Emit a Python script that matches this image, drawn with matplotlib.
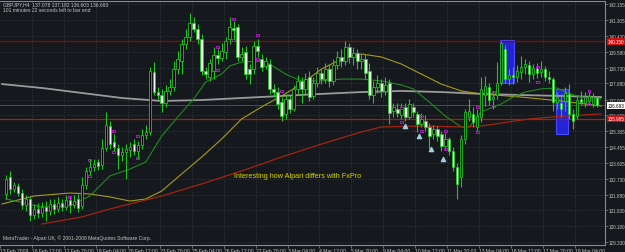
import numpy as np
import matplotlib.pyplot as plt
from matplotlib.patches import Rectangle
from matplotlib.transforms import blended_transform_factory

symbol_info = "GBPJPY,H4  137.078 137.182 136.603 136.693"
timer_info = "101 minutes 22 seconds left to bar end"
copyright_info = "MetaTrader - Alpari UK, \u00a9 2001-2008 MetaQuotes Software Corp."
note = "Interesting how Alpari differs with FxPro"

# H4 candles
opens = [131.92, 132.83, 132.19, 132.35, 131.97, 131.33, 131.65, 130.79, 131.11, 130.89,
         131.22, 131.00, 131.38, 131.11, 131.43, 131.22, 131.59, 131.33, 131.65, 131.27,
         132.40, 133.16, 133.37, 133.64, 133.48, 134.40, 135.58, 134.72, 134.40, 134.02,
         134.18, 134.29, 134.61, 134.23, 134.56, 135.10, 135.26, 138.49, 137.41, 137.25,
         136.82, 137.47, 137.68, 138.65, 139.08, 140.00, 140.38, 141.13, 140.81, 140.27,
         138.55, 138.22, 138.55, 139.41, 139.25, 139.57, 140.27, 140.86, 140.92, 139.30,
         139.57, 138.65, 138.65, 139.89, 139.19, 138.81, 138.92, 137.58, 137.41, 136.87,
         136.23, 137.04, 136.50, 137.58, 138.01, 137.58, 138.22, 137.20, 137.90, 138.44,
         138.11, 138.65, 138.01, 138.87, 139.30, 139.08, 139.84, 139.30, 139.51, 139.08,
         139.19, 138.55, 137.25, 137.68, 137.90, 137.47, 137.90, 136.39, 136.50, 136.17,
         136.61, 136.07, 136.61, 136.23, 135.69, 135.85, 135.53, 135.15, 135.42, 135.15,
         134.50, 134.88, 134.23, 133.37, 132.83, 134.88, 136.07, 136.23, 135.53, 136.07,
         137.25, 137.68, 137.04, 137.25, 137.95, 139.73, 138.11, 138.33, 138.22, 138.49,
         138.76, 138.87, 138.38, 138.71, 138.49, 138.65, 138.22, 138.11, 136.87, 136.82,
         136.93, 137.31, 136.23, 136.12, 137.04, 136.82, 136.93, 136.77, 137.078]
highs = [132.94, 133.16, 132.56, 132.51, 132.19, 131.86, 131.76, 131.38, 131.43, 131.49,
         131.54, 131.65, 131.65, 131.76, 131.65, 131.86, 131.81, 131.86, 131.92, 132.83,
         133.37, 133.80, 133.80, 133.80, 134.88, 136.34, 135.85, 135.15, 134.61, 134.45,
         134.61, 134.72, 134.88, 134.77, 135.42, 135.64, 138.76, 139.03, 137.68, 137.58,
         137.79, 138.11, 139.08, 139.62, 140.27, 140.81, 141.67, 141.45, 141.08, 140.54,
         138.76, 139.19, 139.84, 139.73, 140.05, 140.38, 141.45, 141.24, 141.08, 139.84,
         139.89, 138.92, 140.16, 140.27, 139.46, 139.30, 139.19, 137.84, 137.68, 137.14,
         137.31, 137.25, 137.79, 138.33, 138.22, 138.44, 138.55, 138.22, 138.76, 138.65,
         138.98, 138.92, 139.19, 139.62, 139.73, 140.16, 140.05, 139.84, 139.73, 139.46,
         139.46, 138.98, 138.01, 138.33, 138.11, 138.22, 138.11, 136.82, 136.82, 136.82,
         136.82, 137.04, 136.82, 136.39, 136.28, 136.17, 135.74, 135.64, 135.58, 135.31,
         135.20, 134.99, 134.45, 133.59, 135.10, 136.50, 137.04, 136.61, 136.50, 138.22,
         138.28, 137.90, 137.47, 139.03, 140.16, 139.95, 138.65, 138.76, 138.87, 139.35,
         139.19, 139.08, 138.92, 138.98, 139.08, 138.81, 138.55, 138.22, 137.41, 137.31,
         137.68, 137.84, 136.50, 137.25, 137.47, 137.41, 137.41, 137.36, 137.182]
lows = [131.65, 131.92, 132.02, 131.81, 131.11, 131.00, 130.46, 130.57, 130.62, 130.68,
        130.46, 130.79, 130.84, 130.95, 131.00, 131.06, 130.89, 131.16, 130.95, 131.11,
        132.19, 132.94, 133.16, 133.21, 133.26, 134.23, 134.34, 134.23, 133.26, 133.70,
        132.73, 133.91, 134.02, 133.80, 134.34, 134.88, 135.10, 137.25, 137.04, 136.34,
        136.61, 137.25, 137.47, 138.38, 138.38, 139.73, 140.16, 140.65, 140.00, 138.33,
        138.11, 138.01, 138.11, 138.92, 139.08, 139.19, 140.00, 140.27, 139.08, 139.08,
        138.11, 137.84, 138.38, 139.30, 138.55, 138.65, 137.31, 137.14, 136.50, 135.85,
        135.96, 136.28, 136.39, 137.31, 136.82, 137.31, 136.93, 137.04, 137.68, 137.84,
        137.90, 137.68, 137.79, 138.65, 138.76, 138.87, 138.98, 138.87, 138.65, 138.65,
        138.11, 137.04, 136.82, 137.36, 137.14, 137.25, 135.69, 136.07, 136.07, 135.96,
        135.85, 135.96, 136.07, 135.26, 135.53, 135.31, 134.34, 134.88, 134.77, 134.23,
        134.34, 134.02, 133.16, 131.65, 132.29, 134.61, 135.85, 135.53, 135.31, 135.80,
        136.66, 136.71, 136.50, 137.04, 137.79, 137.90, 137.79, 137.84, 137.95, 138.11,
        138.38, 137.95, 138.11, 138.17, 138.22, 138.01, 137.90, 136.39, 136.50, 136.07,
        136.39, 135.96, 135.42, 135.96, 136.71, 136.61, 136.71, 136.61, 136.603]
closes = [132.73, 132.19, 132.40, 131.97, 131.33, 131.65, 130.79, 131.11, 130.89, 131.22,
          131.00, 131.38, 131.11, 131.43, 131.22, 131.59, 131.33, 131.54, 131.16, 132.40,
          133.16, 133.37, 133.53, 133.43, 134.40, 135.64, 134.61, 134.45, 134.02, 134.18,
          134.34, 134.45, 134.23, 134.56, 135.10, 135.26, 138.55, 137.41, 137.25, 136.82,
          137.47, 137.68, 138.65, 139.19, 140.00, 140.38, 141.13, 140.81, 140.27, 138.55,
          138.38, 138.98, 139.41, 139.25, 139.62, 140.16, 140.92, 140.75, 139.30, 139.46,
          138.38, 138.38, 139.89, 139.62, 138.76, 139.08, 137.58, 137.41, 136.77, 136.12,
          137.04, 136.50, 137.58, 138.01, 137.58, 138.11, 137.14, 137.90, 138.44, 138.11,
          138.65, 138.01, 138.87, 139.30, 139.08, 139.84, 139.30, 139.51, 139.08, 139.19,
          138.44, 137.25, 137.68, 137.90, 137.47, 137.79, 136.28, 136.61, 136.28, 136.61,
          136.07, 136.77, 136.34, 135.69, 135.96, 135.53, 135.04, 135.42, 135.04, 134.50,
          134.88, 134.23, 133.37, 132.46, 134.88, 136.34, 136.39, 135.80, 136.12, 137.58,
          137.74, 136.98, 137.14, 137.90, 140.05, 138.11, 138.33, 138.22, 138.55, 138.76,
          138.92, 138.38, 138.71, 138.44, 138.65, 138.22, 138.11, 136.87, 137.14, 136.50,
          137.36, 136.23, 135.85, 136.98, 136.87, 137.14, 137.20, 137.14, 136.693]

# moving averages, sampled at a few bars
gray_ma_bar = [-1, 9, 19, 29, 39, 49, 59, 69, 79, 89, 99, 109, 119, 129, 139, 149]
gray_ma = [137.84, 137.63, 137.36, 137.09, 136.93, 136.98, 137.09, 137.20, 137.31, 137.41,
           137.47, 137.41, 137.31, 137.25, 137.20, 137.14]
yellow_ma_bar = [-1, 7, 16, 21, 26, 31, 35, 39, 44, 49, 54, 59, 64, 69, 74, 79, 84, 89,
                 94, 99, 104, 109, 114, 119, 129, 139, 149]
yellow_ma = [131.38, 131.81, 131.97, 131.92, 131.76, 131.54, 131.65, 132.08, 133.00, 133.91,
             134.88, 135.96, 136.61, 137.20, 137.84, 138.65, 139.19, 139.46, 139.30, 138.92,
             138.38, 137.84, 137.47, 137.31, 137.14, 136.93, 136.66]
green_ma_bar = [0, 9, 16, 21, 26, 31, 35, 39, 43, 47, 50, 54, 56, 59, 64, 66, 70, 74, 79,
                84, 89, 94, 99, 102, 106, 110, 114, 116, 119, 124, 127, 130, 134, 138, 140,
                144, 149]
green_ma = [131.65, 131.22, 131.27, 131.81, 132.89, 133.26, 133.64, 135.04, 136.07, 137.04,
            137.95, 138.38, 138.81, 139.03, 139.08, 138.92, 138.38, 138.01, 138.01, 138.11,
            138.11, 138.01, 137.79, 137.58, 136.87, 136.12, 135.53, 135.53, 136.34, 136.77,
            137.14, 137.41, 137.58, 137.63, 137.41, 137.14, 137.04]
red_ma_bar = [9, 19, 26, 39, 49, 59, 69, 79, 89, 94, 104, 114, 119, 131, 140, 149]
red_ma = [130.30, 130.68, 131.11, 131.81, 132.46, 133.16, 133.91, 134.61, 135.26, 135.53,
          135.58, 135.53, 135.58, 135.96, 136.12, 136.23]

# horizontal line objects and bid
level_high = 140.150
level_low = 135.985
bid = 136.693

# blue rectangles: start bar, end bar, top, bottom
rect_start = [123.7, 137.7]
rect_end = [127.2, 140.7]
rect_top = [140.21, 137.57]
rect_bottom = [137.90, 135.15]

# fractal-like purple marks and cyan arrows
mark_bar = [8, 16, 21, 21, 27, 27, 33, 33, 53, 53, 57, 57, 63, 63, 69,
            99, 99, 104, 104, 110, 110, 118, 118, 122, 122, 133, 133, 146, 146]
mark_price = [131.27, 131.76, 132.89, 133.75, 135.31, 134.18, 135.04, 133.86, 139.84, 138.60,
              141.35, 140.22, 140.48, 139.19, 137.47,
              136.55, 135.80, 136.12, 135.31, 135.31, 134.34, 136.61, 135.26, 137.41, 136.66,
              138.76, 137.95, 137.47, 136.77]
arrow_bar = [100, 103.5, 106.5, 109.5]
arrow_price = [135.58, 135.04, 134.34, 133.80]

price_ticks = [142.155, 141.305, 140.430, 139.580, 138.730, 137.880, 137.005, 136.155,
               135.305, 134.455, 133.605, 132.730, 131.880, 131.030, 130.180, 129.330]
date_labels = ["13 Feb 2009", "16 Feb 12:00", "17 Feb 20:00", "19 Feb 04:00", "20 Feb 12:00",
               "23 Feb 20:00", "25 Feb 04:00", "26 Feb 12:00", "27 Feb 20:00", "3 Mar 04:00",
               "4 Mar 12:00", "5 Mar 20:00", "9 Mar 04:00", "10 Mar 12:00", "11 Mar 20:00",
               "13 Mar 04:00", "16 Mar 12:00", "17 Mar 20:00", "19 Mar 04:00"]

bg = '#15181c'
grid_c = '#3b424b'
text_c = '#c4c4c4'
candle_c = '#22c322'

plt.rcParams['font.family'] = ['Liberation Sans', 'DejaVu Sans']

fig = plt.figure(figsize=(6.25, 2.53), dpi=100, facecolor=bg)
ax = fig.add_axes([0, 7 / 253, 605 / 625, 244 / 253], facecolor=bg)
ax.set_xlim(-1.25, 150)
ax.set_ylim(129.17, 142.316)

# grid
for p in price_ticks:
    ax.axhline(p, color=grid_c, lw=0.6, ls=(0, (1, 2)), zorder=0)
date_pos = np.arange(len(date_labels)) * 8 - 1.5
for d in date_pos[1:]:
    ax.axvline(d, color=grid_c, lw=0.6, ls=(0, (1, 2)), zorder=0)

# blue boxes
for s, e, t, b in zip(rect_start, rect_end, rect_top, rect_bottom):
    ax.add_patch(Rectangle((s, b), e - s, t - b, facecolor='#2424d4',
                           edgecolor='#4a4aff', lw=0.8, zorder=1))

# horizontal levels and bid line
ax.axhline(level_high, color='#7a0e0e', lw=1.0, zorder=1)
ax.axhline(level_low, color='#b01a10', lw=0.9, zorder=1)
ax.axhline(bid, color='#4c5a60', lw=0.6, zorder=1)

# moving averages
ax.plot(gray_ma_bar, gray_ma, color='#9a9a9a', lw=1.3, zorder=2)
ax.plot(yellow_ma_bar, yellow_ma, color='#a89a1c', lw=0.8, zorder=2)
ax.plot(green_ma_bar, green_ma, color='#1f8a1f', lw=0.8, zorder=2)
ax.plot(red_ma_bar, red_ma, color='#a2250f', lw=0.9, zorder=2)

# candles
x = np.arange(len(closes))
o = np.array(opens)
c = np.array(closes)
ax.vlines(x, lows, highs, color=candle_c, lw=0.8, zorder=3)
bear = c < o
body_lo = np.minimum(o, c)
body_h = np.maximum(np.abs(c - o), 0.03)
ax.bar(x[~bear], body_h[~bear], bottom=body_lo[~bear], width=0.62,
       color='#000000', edgecolor=candle_c, linewidth=0.6, zorder=4)
ax.bar(x[bear], body_h[bear], bottom=body_lo[bear], width=0.62,
       color='#eefcee', edgecolor=candle_c, linewidth=0.6, zorder=4)

# markers
ax.scatter(mark_bar, mark_price, marker='s', s=4, facecolor='none',
           edgecolor='#a81cb8', linewidth=0.7, zorder=5)
ax.scatter(arrow_bar, arrow_price, marker='^', s=9, color='#9fd0e0', zorder=5)

# axes styling
for side in ['left', 'top']:
    ax.spines[side].set_visible(False)
ax.spines['right'].set_color('#8a8a8a')
ax.spines['bottom'].set_color('#8a8a8a')
ax.spines['right'].set_linewidth(0.8)
ax.spines['bottom'].set_linewidth(0.8)
ax.axhline(142.29, color='#8a8a8a', lw=0.8, zorder=1)

ax.yaxis.tick_right()
ax.set_yticks(price_ticks)
ax.set_yticklabels([f"{p:.3f}" for p in price_ticks])
ax.tick_params(axis='y', length=2, width=0.5, color='#8a8a8a', pad=0.8,
               labelsize=3.3, labelcolor=text_c)
ax.set_xticks(date_pos)
ax.set_xticklabels(date_labels, ha='left')
ax.tick_params(axis='x', length=2, width=0.5, color='#8a8a8a', pad=0.5,
               labelsize=3.6, labelcolor=text_c)

# price labels on the axis
trans = blended_transform_factory(ax.transAxes, ax.transData)
for val, fc, tc in [(level_high, '#d01010', 'white'), (level_low, '#d01010', 'white'),
                    (bid, 'white', 'black')]:
    ax.text(1.004, val, f"{val:.3f}", transform=trans, va='center', ha='left',
            fontsize=3.3, color=tc, clip_on=False, zorder=10,
            bbox=dict(boxstyle='square,pad=0.2', fc=fc, ec='none'))

# texts
fig.text(3 / 625, 1 - 2 / 253, symbol_info, va='top', ha='left', fontsize=3.6, color=text_c)
fig.text(3 / 625, 1 - 8 / 253, timer_info, va='top', ha='left', fontsize=3.6, color=text_c)
fig.text(3 / 625, 1 - 235 / 253, copyright_info, va='top', ha='left', fontsize=3.6, color=text_c)
ax.text(57, 132.89, note, va='center', ha='left', fontsize=5.2, color='#d8d400')

fig.savefig('out.png', dpi=100, facecolor=bg)
